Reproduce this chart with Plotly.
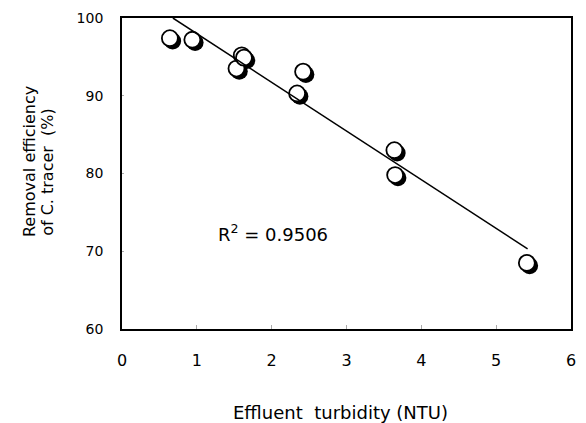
import plotly.graph_objects as go

# Data
turbidity = [0.64, 0.94, 1.53, 1.60, 1.63, 2.34, 2.42, 3.64, 3.65, 5.41]
removal = [97.4, 97.2, 93.5, 95.2, 94.9, 90.3, 93.1, 83.0, 79.8, 68.5]
fit_x = [0.68, 5.42]
fit_y = [100.0, 70.3]
r2_text = "R<sup>2</sup> = 0.9506"
r2_pos = (2.02, 72.3)
x_ticks = [0, 1, 2, 3, 4, 5, 6]
y_ticks = [60, 70, 80, 90, 100]

W, H = 586, 423
L, R, T, B = 122, 10, 18, 94
xr = [0, 6]
yr = [60, 100]
px_x = (xr[1] - xr[0]) / (W - L - R)
px_y = (yr[1] - yr[0]) / (H - T - B)
sh = 2.8  # shadow offset in pixels

font = "DejaVu Sans"
fig = go.Figure()

# invisible trace on main axes (frame and ticks)
fig.add_trace(go.Scatter(x=turbidity, y=removal, mode="markers",
                         marker=dict(opacity=0), showlegend=False,
                         hoverinfo="skip", xaxis="x", yaxis="y"))
# shadow
fig.add_trace(go.Scatter(x=turbidity, y=removal, mode="markers",
                         marker=dict(size=17, color="black", line=dict(width=0)),
                         showlegend=False, xaxis="x2", yaxis="y2"))
# circles
fig.add_trace(go.Scatter(x=turbidity, y=removal, mode="markers",
                         marker=dict(size=16, color="white",
                                     line=dict(color="black", width=1.8)),
                         showlegend=False, xaxis="x3", yaxis="y3"))
# regression line
fig.add_trace(go.Scatter(x=fit_x, y=fit_y, mode="lines",
                         line=dict(color="black", width=1.5),
                         showlegend=False, xaxis="x3", yaxis="y3"))

hidden = dict(visible=False, showgrid=False, zeroline=False)
fig.update_layout(
    width=W, height=H,
    margin=dict(l=L, r=R, t=T, b=B),
    paper_bgcolor="white", plot_bgcolor="white",
    xaxis=dict(range=xr, tickvals=x_ticks, ticks="inside", ticklen=4,
               tickcolor="#aaaaaa", tickwidth=1, showline=True, mirror=True,
               linecolor="black", linewidth=1.5, showgrid=False, zeroline=False,
               tickfont=dict(family=font, size=16, color="black"),
               ticklabelstandoff=16),
    yaxis=dict(range=yr, tickvals=y_ticks, ticks="inside", ticklen=2,
               tickcolor="#aaaaaa", tickwidth=1, showline=True, mirror=True,
               linecolor="black", linewidth=1.8, showgrid=False, zeroline=False,
               tickfont=dict(family=font, size=14, color="black"),
               ticklabelstandoff=14),
    xaxis2=dict(range=[xr[0] - sh * px_x, xr[1] - sh * px_x], overlaying="x", **hidden),
    yaxis2=dict(range=[yr[0] + sh * px_y, yr[1] + sh * px_y], overlaying="y", **hidden),
    xaxis3=dict(range=xr, overlaying="x", **hidden),
    yaxis3=dict(range=yr, overlaying="y", **hidden),
)

fig.add_annotation(text=r2_text, x=r2_pos[0], y=r2_pos[1], xref="x", yref="y",
                   showarrow=False, font=dict(family=font, size=18, color="black"))
fig.add_annotation(text="Effluent  turbidity (NTU)",
                   x=(343 - L) / (W - L - R), y=(H - 412 - B) / (H - T - B),
                   xref="paper", yref="paper", showarrow=False,
                   xanchor="center", yanchor="middle",
                   font=dict(family=font, size=18, color="black"))
fig.add_annotation(text="Removal efficiency", textangle=-90,
                   x=(28 - L) / (W - L - R), y=(H - 162 - B) / (H - T - B),
                   xref="paper", yref="paper", showarrow=False,
                   xanchor="center", yanchor="middle",
                   font=dict(family=font, size=16, color="black"))
fig.add_annotation(text="of C. tracer  (%)", textangle=-90,
                   x=(46 - L) / (W - L - R), y=(H - 172 - B) / (H - T - B),
                   xref="paper", yref="paper", showarrow=False,
                   xanchor="center", yanchor="middle",
                   font=dict(family=font, size=16, color="black"))

fig.write_html("out.html", config={"displayModeBar": False},
               post_script="document.body.style.margin='0px';document.body.style.overflow='hidden';")
